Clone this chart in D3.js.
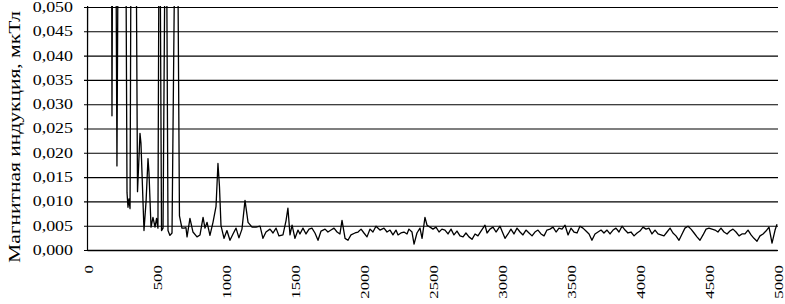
<!DOCTYPE html>
<html>
<head>
<meta charset="utf-8">
<script src="https://cdn.jsdelivr.net/npm/d3@7"></script>
<style>
  body { margin: 0; background: #fff; }
  svg { display: block; }
  text { font-family: "Liberation Serif", "Times New Roman", serif; fill: #000; }
</style>
</head>
<body>
<svg></svg>
<script>
// frequency, Hz
let freq = [0, 50, 167, 181, 196, 217, 232, 279, 290, 297, 304, 312, 322, 355, 366, 384, 391, 413, 428, 442,
  449, 464, 478, 493, 504, 514, 525, 540, 551, 572, 587, 601, 616, 649, 670, 688, 703, 717, 725, 746,
  768, 797, 819, 841, 855, 870, 891, 913, 935, 949, 960, 971, 993, 1014, 1036, 1058, 1080, 1101, 1123, 1145,
  1167, 1196, 1225, 1254, 1275, 1297, 1326, 1348, 1370, 1391, 1420, 1442, 1456, 1471, 1486, 1507, 1529, 1543, 1565, 1587,
  1609, 1630, 1652, 1674, 1696, 1725, 1746, 1768, 1790, 1812, 1833, 1848, 1870, 1891, 1913, 1942, 1964, 1986, 2007, 2029,
  2051, 2072, 2094, 2123, 2152, 2174, 2196, 2217, 2239, 2254, 2275, 2297, 2319, 2333, 2355, 2370, 2391, 2413, 2428, 2449,
  2464, 2486, 2507, 2529, 2551, 2572, 2594, 2616, 2638, 2659, 2681, 2703, 2725, 2746, 2768, 2790, 2812, 2833, 2855, 2884,
  2899, 2920, 2942, 2964, 2993, 3007, 3029, 3051, 3072, 3094, 3116, 3138, 3159, 3181, 3203, 3225, 3246, 3268, 3290, 3312,
  3333, 3355, 3377, 3399, 3420, 3442, 3464, 3486, 3507, 3529, 3551, 3572, 3594, 3616, 3638, 3659, 3681, 3703, 3725, 3746,
  3768, 3790, 3812, 3833, 3855, 3877, 3899, 3920, 3942, 3964, 3986, 4007, 4029, 4051, 4072, 4094, 4116, 4138, 4159, 4181,
  4203, 4225, 4246, 4268, 4290, 4312, 4333, 4355, 4377, 4399, 4420, 4442, 4464, 4486, 4507, 4529, 4551, 4572, 4594, 4616,
  4638, 4659, 4681, 4703, 4725, 4746, 4768, 4790, 4812, 4833, 4855, 4877, 4899, 4920, 4942, 4964, 4986, 5000]

// magnetic induction, mkT (peaks above 0.05 run off the top)
let induction = [0.004, 0.6, 0.2, 0.0276, 0.15, 0.0173, 0.1, 0.08, 0.0118, 0.0088, 0.0105, 0.0085, 0.09, 0.07, 0.012, 0.024, 0.022, 0.004, 0.01, 0.0188,
  0.016, 0.0047, 0.0067, 0.0047, 0.0065, 0.0045, 0.09, 0.004, 0.0045, 0.09, 0.004, 0.003, 0.0035, 0.1, 0.007, 0.0045, 0.0045, 0.0046, 0.0027, 0.0065,
  0.0037, 0.0027, 0.0031, 0.0067, 0.0045, 0.0057, 0.003, 0.0057, 0.009, 0.0178, 0.013, 0.005, 0.0024, 0.004, 0.002, 0.0033, 0.0045, 0.0025, 0.0043, 0.0102,
  0.0057, 0.0047, 0.0047, 0.0049, 0.0024, 0.0037, 0.0043, 0.0035, 0.0045, 0.0029, 0.0031, 0.006, 0.0086, 0.0031, 0.0051, 0.0024, 0.0041, 0.0033, 0.0045, 0.0033,
  0.0043, 0.0045, 0.0035, 0.002, 0.0039, 0.0043, 0.0037, 0.0041, 0.0045, 0.0037, 0.0033, 0.0061, 0.0024, 0.002, 0.0031, 0.0035, 0.0037, 0.0043, 0.0035, 0.0027,
  0.0043, 0.0037, 0.0049, 0.0041, 0.0045, 0.0037, 0.0041, 0.0031, 0.0041, 0.0031, 0.0035, 0.0037, 0.0033, 0.0043, 0.0037, 0.0012, 0.0035, 0.0045, 0.0024, 0.0067,
  0.0051, 0.0047, 0.0043, 0.0047, 0.0037, 0.0043, 0.0041, 0.0033, 0.0043, 0.0031, 0.0039, 0.0029, 0.0027, 0.0035, 0.0027, 0.0022, 0.0033, 0.0029, 0.0039, 0.0051,
  0.0035, 0.0043, 0.0047, 0.0037, 0.0049, 0.0039, 0.0024, 0.0033, 0.0043, 0.0033, 0.0045, 0.0037, 0.0031, 0.0041, 0.0035, 0.0029, 0.0037, 0.0041, 0.0033, 0.0029,
  0.0041, 0.0043, 0.0047, 0.0037, 0.0045, 0.0043, 0.0051, 0.0031, 0.0045, 0.0037, 0.0035, 0.0049, 0.0045, 0.0039, 0.0033, 0.002, 0.0033, 0.0037, 0.0041, 0.0035,
  0.0041, 0.0033, 0.0041, 0.0045, 0.0037, 0.0049, 0.0041, 0.0035, 0.0037, 0.0029, 0.0035, 0.0039, 0.0047, 0.0043, 0.0045, 0.0033, 0.0041, 0.0033, 0.0031, 0.0029,
  0.0037, 0.0045, 0.0035, 0.0029, 0.002, 0.0033, 0.0045, 0.0049, 0.0043, 0.0035, 0.0027, 0.002, 0.0031, 0.0043, 0.0045, 0.0043, 0.0041, 0.0037, 0.0045, 0.0037,
  0.0033, 0.0039, 0.0043, 0.0037, 0.0029, 0.0033, 0.0033, 0.0041, 0.0031, 0.0024, 0.0018, 0.0029, 0.0033, 0.0039, 0.0047, 0.0014, 0.0041, 0.0053]

let xTicks = [0, 500, 1000, 1500, 2000, 2500, 3000, 3500, 4000, 4500, 5000]
let yTicks = [0, 0.005, 0.01, 0.015, 0.02, 0.025, 0.03, 0.035, 0.04, 0.045, 0.05]
let yTickLabels = ['0,000', '0,005', '0,010', '0,015', '0,020', '0,025', '0,030', '0,035', '0,040', '0,045', '0,050']
let yTitle = 'Магнитная индукция, мкТл'

let width = 785
let height = 304
let plotLeft = 87
let plotRight = 777
let plotTop = 7
let plotBottom = 250

let svg = d3.select('svg').attr('width', width).attr('height', height)

let xScale = d3.scaleLinear().domain([0, 5000]).range([plotLeft, plotRight])
let yScale = d3.scaleLinear().domain([0, 0.05]).range([plotBottom, plotTop])

// horizontal grid lines + y axis
let yAxis = d3.axisLeft(yScale)
  .tickValues(yTicks)
  .tickSizeInner(-(plotRight - plotLeft + 1))
  .tickSizeOuter(0)
  .tickPadding(14)
  .tickFormat((d, i) => yTickLabels[i])

let gy = svg.append('g')
  .attr('transform', 'translate(' + plotLeft + ',0)')
  .call(yAxis)
gy.select('.domain').attr('stroke', '#000').attr('stroke-width', 1.2)
gy.selectAll('.tick line').attr('x1', -3).attr('stroke', '#000').attr('stroke-width', 1.1)
gy.selectAll('.tick text')
  .attr('font-size', 14)
  .attr('font-family', '"Liberation Serif", serif')
  .attr('transform', function () {
    // stretch the labels sideways like the scanned original
    let x = +d3.select(this).attr('x')
    return 'translate(' + x + ',0) scale(1.28,1) translate(' + (-x) + ',0)'
  })

// x axis line (no tick marks)
let xAxis = d3.axisBottom(xScale)
  .tickValues(xTicks)
  .tickSize(0)
  .tickFormat('')
let gx = svg.append('g')
  .attr('transform', 'translate(0,' + plotBottom + ')')
  .call(xAxis)
gx.select('.domain').attr('stroke', '#000').attr('stroke-width', 1.4)

// rotated x tick labels
svg.append('g')
  .selectAll('text')
  .data(xTicks)
  .enter()
  .append('text')
  .attr('font-size', 13)
  .attr('text-anchor', 'end')
  .attr('dy', '0.35em')
  .attr('transform', (d) => 'translate(' + (xScale(d) + 1) + ',265) rotate(-90) scale(1.3,1)')
  .text((d) => d)

// y axis title
svg.append('text')
  .attr('transform', 'translate(19.5,137) rotate(-90)')
  .attr('text-anchor', 'middle')
  .attr('font-size', 16)
  .attr('textLength', 252)
  .attr('lengthAdjust', 'spacingAndGlyphs')
  .text(yTitle)

// spectrum line, clipped to the plot area
svg.append('clipPath')
  .attr('id', 'plot-clip')
  .append('rect')
  .attr('x', plotLeft)
  .attr('y', plotTop - 1)
  .attr('width', plotRight - plotLeft + 2)
  .attr('height', plotBottom - plotTop + 1)

let line = d3.line()
  .x((d, i) => xScale(freq[i]))
  .y((d) => yScale(d))

svg.append('path')
  .datum(induction)
  .attr('clip-path', 'url(#plot-clip)')
  .attr('fill', 'none')
  .attr('stroke', '#000')
  .attr('stroke-width', 1.3)
  .attr('stroke-linejoin', 'round')
  .attr('d', line)
</script>
</body>
</html>
